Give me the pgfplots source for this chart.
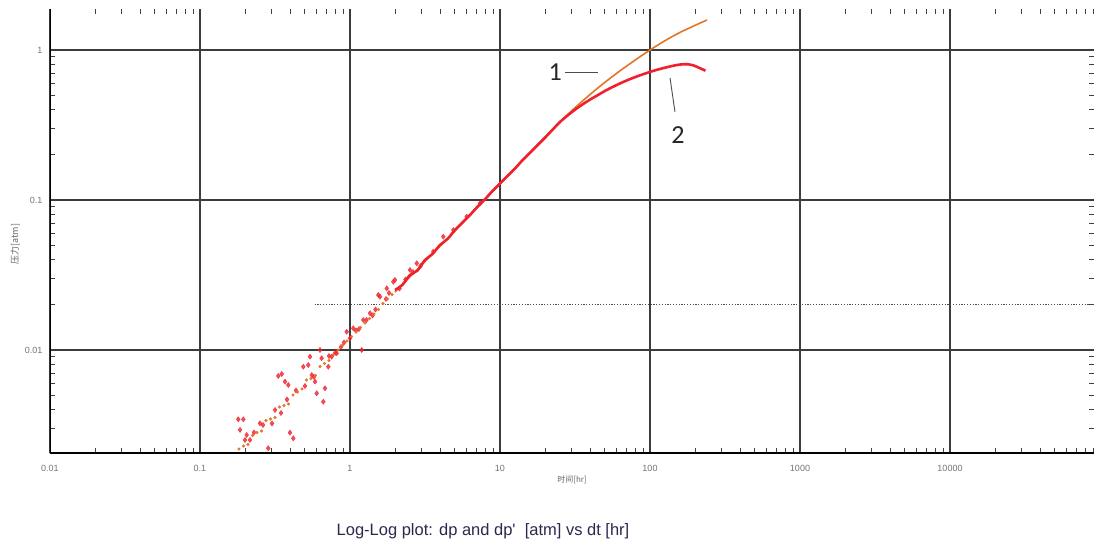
\documentclass[border=0pt]{standalone}
\usepackage{pgfplots}
\pgfplotsset{compat=1.18}
\usepackage{fontspec}
\setmainfont{Liberation Sans}
\newfontfamily\cjk{Noto Sans CJK SC}
\newfontfamily\labfont{Carlito}
\definecolor{orng}{RGB}{226,118,38}
\definecolor{rd}{RGB}{240,32,45}
\definecolor{ttl}{RGB}{48,38,78}
\definecolor{grd}{RGB}{60,60,60}

\pgfplotstableread{
t p
0.1820 0.002188
0.1950 0.002291
0.2089 0.002344
0.2239 0.002692
0.2399 0.002818
0.2570 0.002884
0.2754 0.003388
0.2951 0.003467
0.3162 0.003548
0.3388 0.004169
0.3631 0.004266
0.3890 0.004365
0.4169 0.005012
0.4467 0.005248
0.4786 0.005495
0.5129 0.006310
0.5495 0.006457
0.5888 0.006761
0.6310 0.007762
0.6761 0.008128
0.7244 0.008511
0.7762 0.009333
0.8318 0.010000
0.8913 0.010715
0.9550 0.011482
1.0233 0.012303
1.0965 0.013183
1.1749 0.014125
1.2589 0.015136
1.3490 0.016218
1.4454 0.017378
1.5488 0.018621
1.6596 0.020417
1.7783 0.021878
1.9055 0.023442
}\orangepts

\pgfplotstableread{
t p
1.9953 0.02432
2.5119 0.03076
3.1623 0.03890
3.9811 0.04920
5.0119 0.06223
6.3096 0.07943
7.9433 0.10116
10 0.12882
12.589 0.16218
15.849 0.20654
19.953 0.26303
25.119 0.33113
31.623 0.41210
39.811 0.50466
50.119 0.60954
63.096 0.72611
79.433 0.85507
100 1.0000
125.89 1.1535
158.49 1.3092
199.53 1.4588
239.88 1.5849
}\orangeline

\pgfplotstableread{
t p
1.9953 0.02512
2.2387 0.02723
2.5119 0.03162
2.8184 0.03388
3.1623 0.03981
3.5481 0.04365
3.9811 0.05012
4.4668 0.05495
5.0119 0.06310
5.6234 0.07079
6.3096 0.07943
7.0795 0.09016
7.9433 0.10116
8.9125 0.11482
10 0.12882
11.220 0.14454
12.589 0.16218
14.125 0.18408
15.849 0.20654
17.783 0.23174
19.953 0.26002
22.387 0.29374
25.119 0.33113
28.184 0.36559
31.623 0.39994
35.481 0.43351
39.811 0.46666
44.668 0.49888
50.119 0.53333
56.234 0.56624
63.096 0.59841
70.795 0.62951
79.433 0.65917
89.125 0.68707
100 0.71450
112.20 0.73961
125.89 0.76208
141.25 0.78343
158.49 0.79983
177.83 0.80353
194.98 0.78886
213.80 0.75858
234.42 0.72778
}\redline

\pgfplotstableread{
t p
0.1799 0.003451
0.1945 0.003451
0.1849 0.002931
0.2047 0.002712
0.2154 0.002512
0.2512 0.003245
0.2851 0.002213
0.3162 0.003981
0.3327 0.006714
0.3508 0.006918
0.3687 0.006152
0.3880 0.005848
0.3981 0.002812
0.4188 0.002577
0.4884 0.007739
0.5272 0.007943
0.5559 0.006808
0.5848 0.006152
0.5998 0.005145
0.6637 0.004520
0.6813 0.005555
0.5412 0.009021
0.6310 0.010000
0.6471 0.008810
0.7169 0.007739
0.7551 0.009021
0.8150 0.009512
0.9506 0.01324
1.0000 0.01197
1.052 0.01396
1.197 0.01000
1.227 0.01585
1.359 0.01758
1.585 0.02265
1.944 0.02851
0.1995 0.002512
0.2291 0.002818
0.2630 0.003162
0.3020 0.003236
0.3467 0.003802
0.3802 0.004677
0.4365 0.005370
0.5012 0.005754
0.5754 0.006607
0.7244 0.009120
0.7943 0.009550
0.8710 0.010471
0.9120 0.011220
1.0965 0.013490
1.1482 0.013804
1.2882 0.015849
1.4125 0.016982
1.4791 0.018621
1.7378 0.021878
1.8197 0.023988
2.1380 0.025704
2.3442 0.029512
2.6303 0.033113
2.9512 0.036308
1.545 0.02328
1.758 0.02576
1.995 0.02931
2.512 0.03415
2.786 0.03784
3.591 0.04519
4.188 0.05692
4.886 0.06310
5.998 0.07745
7.362 0.09506
}\redpts

\begin{document}
\begin{tikzpicture}[x=1pt,y=1pt]
\useasboundingbox (0,0) rectangle (1094,543);
\begin{axis}[
  at={(50pt,90pt)}, anchor=south west,
  scale only axis, width=1044pt, height=444pt,
  xmode=log, ymode=log,
  xmin=0.01, xmax=91200, ymin=0.002057, ymax=1.876,
  axis line style={draw=none},
  grid=major,
  major grid style={grd, line width=1.4pt},
  minor grid style={draw=none},
  xtick={0.01,0.1,1,10,100,1000,10000},
  xticklabels={0.01,0.1,1,10,100,1000,10000},
  ytick={0.01,0.1,1},
  yticklabels={0.01,0.1,1},
  minor xtick={0.02,0.03,0.04,0.05,0.06,0.07,0.08,0.09,
    0.2,0.3,0.4,0.5,0.6,0.7,0.8,0.9,
    2,3,4,5,6,7,8,9,
    20,30,40,50,60,70,80,90,
    200,300,400,500,600,700,800,900,
    2000,3000,4000,5000,6000,7000,8000,9000,
    20000,30000,40000,50000,60000,70000,80000,90000},
  minor ytick={0.003,0.004,0.005,0.006,0.007,0.008,0.009,
    0.02,0.03,0.04,0.05,0.06,0.07,0.08,0.09,
    0.2,0.3,0.4,0.5,0.6,0.7,0.8,0.9},
  major tick length=0pt,
  minor tick length=5pt,
  tick align=inside,
  tick style={black!75, line width=1.1pt},
  ticklabel style={font=\fontsize{9}{10}\selectfont, text=black!55},
  xticklabel style={anchor=center, yshift=-15pt},
  yticklabel style={anchor=east, xshift=-4pt},
  xlabel={\cjk 时间[hr]},
  ylabel={\cjk 压力[atm]},
  xlabel style={at={(rel axis cs:0.5,0)}, anchor=center, yshift=-27pt,
    font=\fontsize{8}{9}\selectfont, text=black!60},
  ylabel style={at={(axis description cs:-0.0335,0.47)}, anchor=center, rotate=0,
    font=\fontsize{9}{10}\selectfont, text=black!60},
  clip=true,
]
\addplot[black!70, line width=0.8pt, dash pattern=on 1.2pt off 1.6pt]
  coordinates {(0.58,0.02) (91200,0.02)};
\addplot[only marks, mark=diamond*, mark size=2.6pt, color=rd, opacity=0.8]
  table[x=t, y=p] {\redpts};
\addplot[only marks, mark=*, mark size=1.3pt, color=orng]
  table[x=t, y=p] {\orangepts};
\addplot[orng, line width=1.6pt, smooth] table[x=t, y=p] {\orangeline};
\addplot[rd, line width=2.6pt, smooth] table[x=t, y=p] {\redline};
\draw[black, line width=2pt] (rel axis cs:0,1) -- (rel axis cs:0,0) -- (rel axis cs:1,0);
\node[font=\labfont\fontsize{26}{26}\selectfont, text=black!85] at (axis cs:23.3,0.713) {1};
\draw[black!70, line width=0.9pt] (axis cs:27.1,0.703) -- (axis cs:45,0.703);
\node[font=\labfont\fontsize{26}{26}\selectfont, text=black!85] at (axis cs:153.7,0.271) {2};
\draw[black!70, line width=0.9pt] (axis cs:136,0.651) -- (axis cs:146.8,0.386);
\end{axis}
\node[font=\fontsize{16.5}{18}\selectfont, text=ttl] at (483,12) {Log-Log plot: dp and dp\textquotesingle\ \ [atm] vs dt [hr]};
\end{tikzpicture}
\end{document}
